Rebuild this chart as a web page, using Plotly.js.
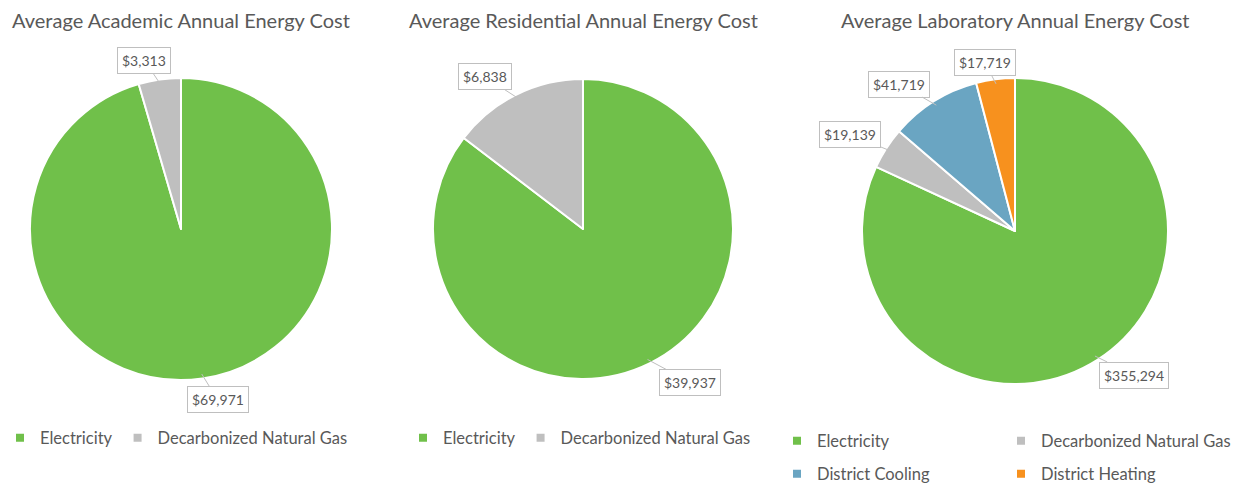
<!DOCTYPE html>
<html><head><meta charset="utf-8">
<script src="https://cdn.plot.ly/plotly-3.0.1.min.js"></script>
<style>html,body{margin:0;padding:0;background:#fff;}#chart{width:1248px;height:483px;}</style>
</head><body><div id="chart"></div>
<script>
// ---------- data ----------
const titles = ['Average Academic Annual Energy Cost', 'Average Residential Annual Energy Cost', 'Average Laboratory Annual Energy Cost'];
const academicLabels = ['Electricity', 'Decarbonized Natural Gas'];
const academicValues = [69971, 3313];
const residentialLabels = ['Electricity', 'Decarbonized Natural Gas'];
const residentialValues = [39937, 6838];
const laboratoryLabels = ['Electricity', 'Decarbonized Natural Gas', 'District Cooling', 'District Heating'];
const laboratoryValues = [355294, 19139, 41719, 17719];

// ---------- styles / layout ----------
const colorMap = {
  'Electricity': '#70C04A',
  'Decarbonized Natural Gas': '#BFBFBF',
  'District Cooling': '#6AA5C2',
  'District Heating': '#F7911E'
};
const W = 1248, H = 483;
const FONT = 'Lato, "Open Sans", sans-serif';
const TXT = '#595959';

const charts = [
  {title: titles[0], labels: academicLabels, values: academicValues, cx: 181, cy: 229, r: 151,
   offsets: [[16, 26], [-16, -24]],
   legends: [{items: [0, 1], x: 0, y: 438}]},
  {title: titles[1], labels: residentialLabels, values: residentialValues, cx: 583, cy: 229, r: 150,
   offsets: [[43, 23], [-34, -22]],
   legends: [{items: [0, 1], x: 403, y: 438}]},
  {title: titles[2], labels: laboratoryLabels, values: laboratoryValues, cx: 1015, cy: 231, r: 153,
   offsets: [[39, 19], [-40, -16], [-37, -21], [-11, -21]],
   legends: [{items: [0], x: 777, y: 441}, {items: [1], x: 1001, y: 441},
             {items: [2], x: 777, y: 474}, {items: [3], x: 1001, y: 474}]}
];

const px = x => x / W;
const py = y => 1 - y / H;

const traces = [];
const annotations = [];
const layout = {
  width: W, height: H,
  margin: {l: 0, r: 0, t: 0, b: 0, autoexpand: false},
  paper_bgcolor: '#ffffff', plot_bgcolor: '#ffffff',
  font: {family: FONT, color: TXT},
  xaxis: {visible: false, range: [10, 11], fixedrange: true},
  yaxis: {visible: false, range: [10, 11], fixedrange: true},
  hovermode: false
};

let legendCount = 0;
charts.forEach((c) => {
  traces.push({
    type: 'pie', labels: c.labels, values: c.values,
    sort: false, direction: 'clockwise', rotation: 0,
    textinfo: 'none', showlegend: false, hoverinfo: 'skip',
    marker: {colors: c.labels.map(l => colorMap[l]), line: {color: '#ffffff', width: 2}},
    domain: {x: [px(c.cx - c.r), px(c.cx + c.r)], y: [py(c.cy + c.r), py(c.cy - c.r)]}
  });
  // title
  annotations.push({
    text: c.title, xref: 'paper', yref: 'paper', x: px(c.cx), y: py(20),
    xanchor: 'center', yanchor: 'middle', showarrow: false,
    font: {size: 20, color: TXT, family: FONT}
  });
  // data labels with leader lines, anchored at slice mid-angle on pie edge
  const total = c.values.reduce((a, b) => a + b, 0);
  let cum = 0;
  c.values.forEach((v, i) => {
    const mid = (cum + v / 2) / total * 2 * Math.PI;
    cum += v;
    const R = c.r * 0.97;
    const hx = c.cx + R * Math.sin(mid);
    const hy = c.cy - R * Math.cos(mid);
    annotations.push({
      text: '$' + v.toLocaleString('en-US'),
      xref: 'paper', yref: 'paper', x: px(hx), y: py(hy),
      ax: c.offsets[i][0], ay: c.offsets[i][1],
      showarrow: true, arrowhead: 0, arrowwidth: 1, arrowcolor: '#BFBFBF', standoff: 0,
      bordercolor: '#BFBFBF', borderwidth: 1, borderpad: 4, bgcolor: '#ffffff',
      font: {size: 14, color: TXT, family: FONT}
    });
  });
  // legends
  c.legends.forEach((lg) => {
    legendCount += 1;
    const lid = legendCount === 1 ? 'legend' : 'legend' + legendCount;
    lg.items.forEach(idx => {
      const lab = c.labels[idx];
      traces.push({
        type: 'scatter', mode: 'markers', x: [0], y: [0], name: lab,
        legend: lid, showlegend: true, hoverinfo: 'skip',
        marker: {symbol: 'square', size: 8, color: colorMap[lab]}
      });
    });
    layout[lid] = {
      orientation: 'h', x: px(lg.x), y: py(lg.y),
      xanchor: 'left', yanchor: 'middle',
      bgcolor: 'rgba(0,0,0,0)', borderwidth: 0,
      font: {size: 16.5, color: TXT, family: FONT}
    };
  });
});
layout.annotations = annotations;

Plotly.newPlot('chart', traces, layout, {displayModeBar: false, staticPlot: true});
</script>
</body></html>
